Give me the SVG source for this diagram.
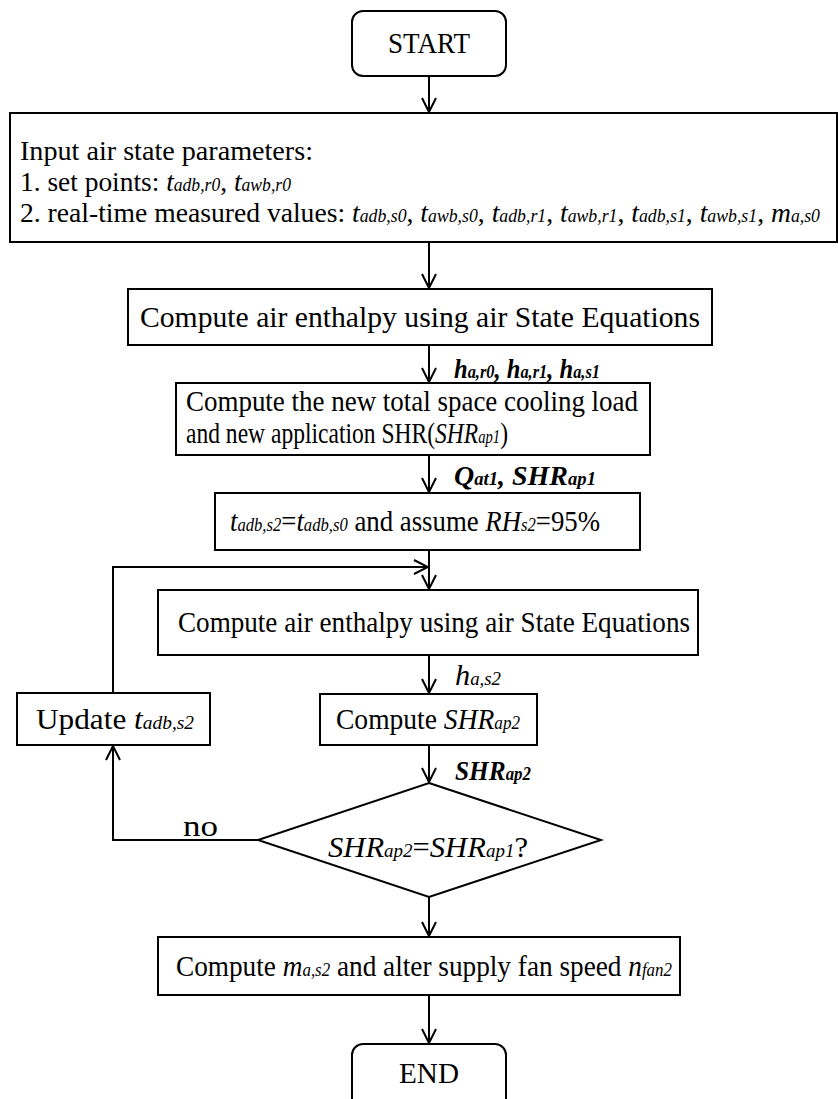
<svg xmlns="http://www.w3.org/2000/svg" width="838" height="1099" viewBox="0 0 838 1099">
  <style>
    .box { fill: #ffffff; stroke: #000000; stroke-width: 2; }
    .line { fill: none; stroke: #000000; stroke-width: 2; }
    .t { font-family: "Liberation Serif", "Times New Roman", serif; font-size: 29px; fill: #000000; }
    .in { font-size: 28px; }
    .i { font-style: italic; }
    .s { font-size: 18px; font-style: italic; }
    .lbl { font-family: "Liberation Serif", "Times New Roman", serif; font-size: 27px; font-style: italic; font-weight: bold; fill: #000000; }
  </style>
  <defs>
    <marker id="arrow" markerUnits="userSpaceOnUse" markerWidth="18" markerHeight="18" viewBox="0 0 18 18" refX="16" refY="9" orient="auto">
      <path d="M2,2 L16,9 L2,16" fill="none" stroke="#000000" stroke-width="2"/>
    </marker>
  </defs>
  <rect width="838" height="1099" fill="#ffffff"/>

  <!-- connectors and their labels -->
  <g id="connectors">
    <line class="line" x1="429" y1="76" x2="429" y2="112" marker-end="url(#arrow)"/>
    <line class="line" x1="429" y1="242" x2="429" y2="288" marker-end="url(#arrow)"/>
    <line class="line" x1="429" y1="345" x2="429" y2="382" marker-end="url(#arrow)"/>
    <line class="line" x1="429" y1="455" x2="429" y2="492" marker-end="url(#arrow)"/>
    <line class="line" x1="429" y1="550" x2="429" y2="589" marker-end="url(#arrow)"/>
    <polyline class="line" points="113,693 113,567 428,567" marker-end="url(#arrow)"/>
    <line class="line" x1="429" y1="655" x2="429" y2="693" marker-end="url(#arrow)"/>
    <line class="line" x1="429" y1="745" x2="429" y2="782" marker-end="url(#arrow)"/>
    <polyline class="line" points="258,840 113,840 113,746" marker-end="url(#arrow)"/>
    <line class="line" x1="429" y1="897" x2="429" y2="936" marker-end="url(#arrow)"/>
    <line class="line" x1="429" y1="995" x2="429" y2="1043" marker-end="url(#arrow)"/>
    <text class="lbl" x="454" y="378" textLength="146" lengthAdjust="spacingAndGlyphs">h<tspan class="s">a,r0</tspan>, h<tspan class="s">a,r1</tspan>, h<tspan class="s">a,s1</tspan></text>
    <text class="lbl" x="454" y="485" textLength="142" lengthAdjust="spacingAndGlyphs">Q<tspan class="s">at1</tspan>, SHR<tspan class="s">ap1</tspan></text>
    <text class="t i" x="455" y="685" font-size="27" textLength="46" lengthAdjust="spacingAndGlyphs">h<tspan class="s">a,s2</tspan></text>
    <text class="lbl" x="455" y="780" textLength="76" lengthAdjust="spacingAndGlyphs">SHR<tspan class="s">ap2</tspan></text>
    <text class="t" x="183" y="836" textLength="35" lengthAdjust="spacingAndGlyphs">no</text>
    <text class="t" x="465" y="870" textLength="36" lengthAdjust="spacingAndGlyphs">yes</text>
  </g>

  <g id="start">
    <rect class="box" x="352" y="11" width="154" height="65" rx="11"/>
    <text class="t" x="429" y="53" text-anchor="middle" textLength="82" lengthAdjust="spacingAndGlyphs">START</text>
  </g>

  <g id="input">
    <rect class="box" x="10" y="113" width="827" height="129"/>
    <text class="t in" x="20" y="160" textLength="293" lengthAdjust="spacingAndGlyphs">Input air state parameters:</text>
    <text class="t in" x="20" y="191" textLength="271" lengthAdjust="spacingAndGlyphs">1. set points: <tspan class="i">t</tspan><tspan class="s">adb,r0</tspan>, <tspan class="i">t</tspan><tspan class="s">awb,r0</tspan></text>
    <text class="t in" x="20" y="222" textLength="800" lengthAdjust="spacingAndGlyphs">2. real-time measured values: <tspan class="i">t</tspan><tspan class="s">adb,s0</tspan>, <tspan class="i">t</tspan><tspan class="s">awb,s0</tspan>, <tspan class="i">t</tspan><tspan class="s">adb,r1</tspan>, <tspan class="i">t</tspan><tspan class="s">awb,r1</tspan>, <tspan class="i">t</tspan><tspan class="s">adb,s1</tspan>, <tspan class="i">t</tspan><tspan class="s">awb,s1</tspan>, <tspan class="i">m</tspan><tspan class="s">a,s0</tspan></text>
  </g>

  <g id="enthalpy1">
    <rect class="box" x="128" y="289" width="584" height="56"/>
    <text class="t" x="140" y="327" textLength="560" lengthAdjust="spacingAndGlyphs">Compute air enthalpy using air State Equations</text>
  </g>

  <g id="cooling-load">
    <rect class="box" x="176" y="383" width="474" height="72"/>
    <text class="t" x="186" y="411" textLength="452" lengthAdjust="spacingAndGlyphs">Compute the new total space cooling load</text>
    <text class="t" x="186" y="443" textLength="322" lengthAdjust="spacingAndGlyphs">and new application SHR(<tspan class="i">SHR</tspan><tspan class="s">ap1</tspan>)</text>
  </g>

  <g id="assume">
    <rect class="box" x="215" y="493" width="425" height="57"/>
    <text class="t" x="230" y="531" textLength="370" lengthAdjust="spacingAndGlyphs"><tspan class="i">t</tspan><tspan class="s">adb,s2</tspan>=<tspan class="i">t</tspan><tspan class="s">adb,s0</tspan> and assume <tspan class="i">RH</tspan><tspan class="s">s2</tspan>=95%</text>
  </g>

  <g id="enthalpy2">
    <rect class="box" x="158" y="590" width="540" height="65"/>
    <text class="t" x="178" y="632" textLength="512" lengthAdjust="spacingAndGlyphs">Compute air enthalpy using air State Equations</text>
  </g>

  <g id="update">
    <rect class="box" x="17" y="693" width="193" height="52"/>
    <text class="t" x="36" y="729" textLength="158" lengthAdjust="spacingAndGlyphs">Update <tspan class="i">t</tspan><tspan class="s">adb,s2</tspan></text>
  </g>

  <g id="shr2">
    <rect class="box" x="320" y="694" width="217" height="51"/>
    <text class="t" x="336" y="729" textLength="184" lengthAdjust="spacingAndGlyphs">Compute <tspan class="i">SHR</tspan><tspan class="s">ap2</tspan></text>
  </g>

  <g id="decision">
    <polygon class="box" points="429,783 601,840 429,897 258,840"/>
    <text class="t" x="328" y="857" textLength="200" lengthAdjust="spacingAndGlyphs"><tspan class="i">SHR</tspan><tspan class="s">ap2</tspan>=<tspan class="i">SHR</tspan><tspan class="s">ap1</tspan>?</text>
  </g>

  <g id="fan">
    <rect class="box" x="158" y="937" width="522" height="58"/>
    <text class="t" x="176" y="976" textLength="496" lengthAdjust="spacingAndGlyphs">Compute <tspan class="i">m</tspan><tspan class="s">a,s2</tspan> and alter supply fan speed <tspan class="i">n</tspan><tspan class="s">fan2</tspan></text>
  </g>

  <g id="end">
    <rect class="box" x="352" y="1044" width="154" height="70" rx="11"/>
    <text class="t" x="429" y="1083" text-anchor="middle" textLength="60" lengthAdjust="spacingAndGlyphs">END</text>
  </g>
</svg>
